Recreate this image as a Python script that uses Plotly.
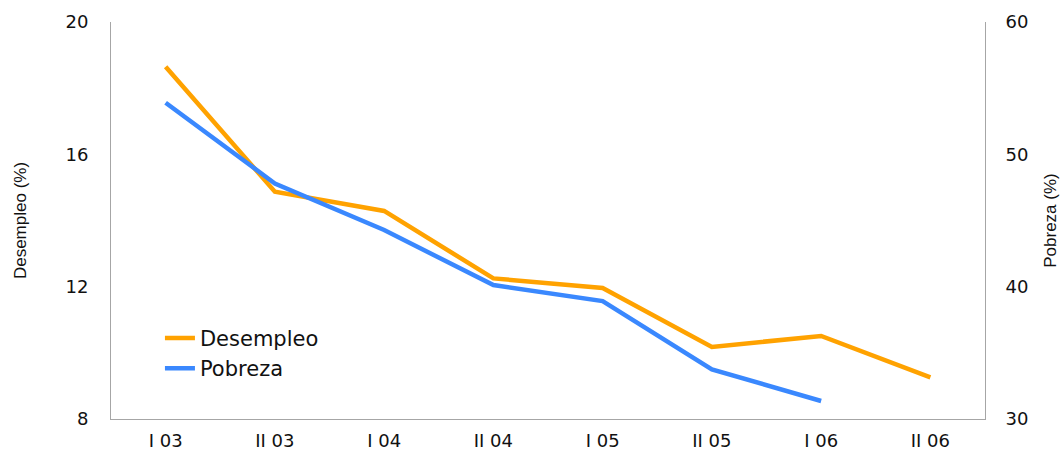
import plotly.graph_objects as go

# Half-year periods
periods = ["I 03", "II 03", "I 04", "II 04", "I 05", "II 05", "I 06", "II 06"]

# Unemployment rate (%), left axis
desempleo = [18.65, 14.87, 14.29, 12.25, 11.96, 10.18, 10.51, 9.26]

# Poverty rate (%), right axis (no figure yet for II 06)
pobreza = [53.9, 47.8, 44.28, 40.12, 38.91, 33.75, 31.36]

left_ticks = [8, 12, 16, 20]
right_ticks = [30, 40, 50, 60]

ORANGE = "#FFA200"
BLUE = "#3A88FE"
AXIS_GRAY = "#A6A6A6"
TEXT = "#111111"
FONT = "DejaVu Sans"
TITLE_FONT = "Liberation Sans"

fig = go.Figure()
fig.add_trace(go.Scatter(
    x=periods, y=desempleo, name="Desempleo", mode="lines",
    line=dict(color=ORANGE, width=4.5), yaxis="y",
))
fig.add_trace(go.Scatter(
    x=periods[:len(pobreza)], y=pobreza, name="Pobreza", mode="lines",
    line=dict(color=BLUE, width=4.5), yaxis="y2",
))

fig.update_layout(
    width=1061, height=450,
    margin=dict(l=111, r=76, t=22, b=31),
    paper_bgcolor="white", plot_bgcolor="white",
    font=dict(family=FONT, color=TEXT),
    showlegend=True,
    legend=dict(
        x=0.056, y=0.255, xanchor="left", yanchor="top",
        font=dict(family=FONT, size=21, color=TEXT),
        bgcolor="rgba(0,0,0,0)", borderwidth=0,
        tracegroupgap=0,
    ),
    xaxis=dict(
        type="category", categoryorder="array", categoryarray=periods,
        range=[-0.5, len(periods) - 0.5],
        showline=True, linecolor=AXIS_GRAY, linewidth=1,
        showgrid=False, ticks="", zeroline=False, automargin=False,
        tickfont=dict(family=FONT, size=18, color=TEXT),
        ticklabelstandoff=5,
    ),
    yaxis=dict(
        range=[8, 20], tickvals=left_ticks,
        showline=True, linecolor=AXIS_GRAY, linewidth=1,
        showgrid=False, ticks="", zeroline=False, automargin=False,
        tickfont=dict(family=FONT, size=18, color=TEXT),
        ticklabelstandoff=18,
        title=dict(text="Desempleo (%)", standoff=34,
                   font=dict(family=TITLE_FONT, size=17, color=TEXT)),
    ),
    yaxis2=dict(
        range=[30, 60], tickvals=right_ticks,
        overlaying="y", side="right",
        showline=True, linecolor=AXIS_GRAY, linewidth=1,
        showgrid=False, ticks="", zeroline=False, automargin=False,
        tickfont=dict(family=FONT, size=18, color=TEXT),
        ticklabelstandoff=16,
        title=dict(text="Pobreza (%)", standoff=16,
                   font=dict(family=TITLE_FONT, size=17, color=TEXT)),
    ),
)

fig.write_html("out.html")
